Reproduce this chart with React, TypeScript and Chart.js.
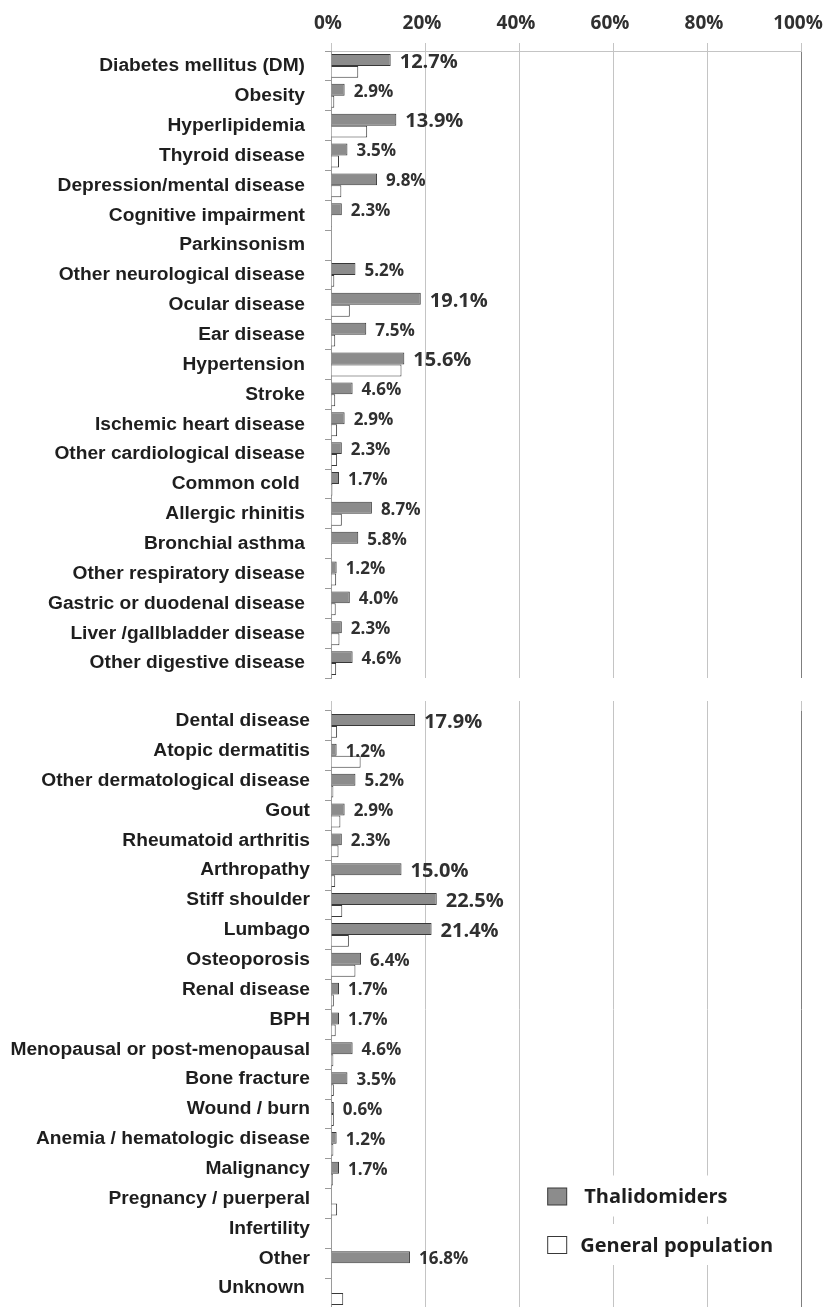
import React, { useEffect, useRef } from "react";
import { Chart, registerables } from "chart.js";

Chart.register(...registerables);

// ---------- data ----------
const seriesNames = ["Thalidomiders", "General population"];

const categoriesTop = [
  "Diabetes mellitus (DM)",
  "Obesity",
  "Hyperlipidemia",
  "Thyroid disease",
  "Depression/mental disease",
  "Cognitive impairment",
  "Parkinsonism",
  "Other neurological disease",
  "Ocular disease",
  "Ear disease",
  "Hypertension",
  "Stroke",
  "Ischemic heart disease",
  "Other cardiological disease",
  "Common cold ",
  "Allergic rhinitis",
  "Bronchial asthma",
  "Other respiratory disease",
  "Gastric or duodenal disease",
  "Liver /gallbladder disease",
  "Other digestive disease",
];
const thalidomidersTop = [
  12.7, 2.9, 13.9, 3.5, 9.8, 2.3, 0, 5.2, 19.1, 7.5, 15.6, 4.6, 2.9, 2.3, 1.7,
  8.7, 5.8, 1.2, 4.0, 2.3, 4.6,
];
const generalTop = [
  5.8, 0.7, 7.7, 1.7, 2.2, 0.2, 0.1, 0.7, 4.0, 0.9, 15.0, 0.9, 1.3, 1.3, 0.3,
  2.3, 0.2, 1.1, 1.0, 1.8, 1.1,
];

const categoriesBottom = [
  "Dental disease",
  "Atopic dermatitis",
  "Other dermatological disease",
  "Gout",
  "Rheumatoid arthritis",
  "Arthropathy",
  "Stiff shoulder",
  "Lumbago",
  "Osteoporosis",
  "Renal disease",
  "BPH",
  "Menopausal or post-menopausal",
  "Bone fracture",
  "Wound / burn",
  "Anemia / hematologic disease",
  "Malignancy",
  "Pregnancy / puerperal",
  "Infertility",
  "Other",
  "Unknown ",
];
const thalidomidersBottom = [
  17.9, 1.2, 5.2, 2.9, 2.3, 15.0, 22.5, 21.4, 6.4, 1.7, 1.7, 4.6, 3.5, 0.6, 1.2,
  1.7, 0, 0, 16.8, 0,
];
const generalBottom = [
  1.3, 6.3, 0.5, 2.0, 1.6, 0.9, 2.4, 3.8, 5.2, 0.6, 1.0, 0.5, 0.6, 0.6, 0.5,
  0.4, 1.3, 0, 0, 2.6,
];

const xTickValues = [0, 20, 40, 60, 80, 100];

// ---------- styles ----------
const THAL_FILL = "#8c8c8c";
const GEN_FILL = "#ffffff";
const BAR_BORDER = "#383838";
const GRID = "#c4c4c4";
const AXIS = "#9a9a9a";
const RIGHT_EDGE = "#7f7f7f";
const LABEL_FONT = '"Liberation Sans", Arial, sans-serif';
const NUM_FONT = '"Open Sans", "Noto Sans", sans-serif';

const valueLabelPlugin = {
  id: "valueLabels",
  afterDatasetsDraw(chart: any) {
    const ctx = chart.ctx;
    const meta = chart.getDatasetMeta(0);
    const data = chart.data.datasets[0].data as number[];
    const labels = chart.data.labels as string[];
    ctx.save();
    ctx.fillStyle = "#303030";
    ctx.textAlign = "left";
    ctx.textBaseline = "middle";
    meta.data.forEach((bar: any, i: number) => {
      const v = data[i];
      if (!v) return;
      const big = v >= 12 && labels[i].trim() !== "Other";
      ctx.font = `bold ${big ? 20 : 17}px ${NUM_FONT}`;
      ctx.fillText(v.toFixed(1) + "%", bar.x + 9, bar.y + 2);
    });
    ctx.restore();
  },
};

const legendPlugin = {
  id: "boxLegend",
  afterDraw(chart: any) {
    if (!chart.options.plugins.boxLegend?.show) return;
    const ctx = chart.ctx;
    const area = chart.chartArea;
    const xs = chart.scales.x;
    const boxLeft = xs.getPixelForValue(46);
    const items = chart.data.datasets.map((ds: any, i: number) => ({
      text: ds.label,
      fill: ds.backgroundColor,
      border: ds.borderColor,
      cy: area.top + 485.5 + i * 48.5,
      textX: boxLeft + (i === 0 ? 37 : 33),
    }));
    ctx.save();
    items.forEach((it: any) => {
      ctx.fillStyle = "#ffffff";
      ctx.fillRect(boxLeft - 8, it.cy - 21, 252, 41);
      ctx.fillStyle = it.fill;
      ctx.strokeStyle = it.border;
      ctx.lineWidth = 1;
      ctx.fillRect(boxLeft + 0.5, it.cy - 8.5, 19, 17);
      ctx.strokeRect(boxLeft + 0.5, it.cy - 8.5, 19, 17);
      ctx.fillStyle = "#1e1e1e";
      ctx.font = `bold 20px ${NUM_FONT}`;
      ctx.textAlign = "left";
      ctx.textBaseline = "middle";
      ctx.fillText(it.text, it.textX, it.cy + 1);
    });
    ctx.restore();
  },
};

function makeConfig(
  labels: string[],
  thal: number[],
  gen: number[],
  top: boolean
): any {
  return {
    type: "bar",
    data: {
      labels,
      datasets: [
        {
          label: seriesNames[0],
          data: thal,
          backgroundColor: THAL_FILL,
          borderColor: BAR_BORDER,
          borderWidth: 1,
        },
        {
          label: seriesNames[1],
          data: gen,
          backgroundColor: GEN_FILL,
          borderColor: BAR_BORDER,
          borderWidth: 1,
        },
      ],
    },
    options: {
      indexAxis: "y",
      animation: false,
      responsive: false,
      events: [],
      layout: {
        padding: top
          ? { left: 0, right: 29, top: 0, bottom: 12 }
          : { left: 0, right: 29, top: 11, bottom: 0 },
      },
      datasets: { bar: { categoryPercentage: 0.8, barPercentage: 1.0 } },
      plugins: {
        legend: { display: false },
        tooltip: { enabled: false },
        boxLegend: { show: !top },
      },
      scales: {
        x: {
          position: "top",
          min: 0,
          max: 100,
          afterBuildTicks: (s: any) => {
            s.ticks = xTickValues.map((v) => ({ value: v }));
          },
          afterFit: (s: any) => {
            s.height = top ? 51 : 10;
            s.paddingLeft = 0;
            s.paddingRight = 0;
          },
          ticks: {
            display: top,
            callback: (v: any) => v + "%",
            font: { family: NUM_FONT, weight: "bold", size: 19 },
            color: "#303030",
            padding: 8,
            maxRotation: 0,
            labelOffset: -3,
          },
          grid: {
            color: (c: any) =>
              c.tick && c.tick.value === 100
                ? RIGHT_EDGE
                : c.tick && c.tick.value === 0
                ? AXIS
                : GRID,
            tickColor: GRID,
            tickLength: top ? 8 : 10,
          },
          border: { display: top, color: GRID },
        },
        y: {
          afterFit: (s: any) => {
            s.width = 331;
            s.paddingTop = 0;
            s.paddingBottom = 0;
          },
          ticks: {
            autoSkip: false,
            font: { family: LABEL_FONT, weight: "bold", size: 19.2 },
            color: "#1e1e1e",
            padding: top ? 20 : 15,
            labelOffset: top ? 0 : -5,
          },
          grid: {
            drawOnChartArea: false,
            tickLength: 6,
            color: AXIS,
          },
          border: { color: AXIS },
        },
      },
    },
    plugins: [valueLabelPlugin, legendPlugin],
  };
}

export default function App() {
  const topRef = useRef<HTMLCanvasElement>(null);
  const bottomRef = useRef<HTMLCanvasElement>(null);

  useEffect(() => {
    const c1 = new Chart(
      topRef.current as HTMLCanvasElement,
      makeConfig(categoriesTop, thalidomidersTop, generalTop, true)
    );
    const c2 = new Chart(
      bottomRef.current as HTMLCanvasElement,
      makeConfig(categoriesBottom, thalidomidersBottom, generalBottom, false)
    );
    return () => {
      c1.destroy();
      c2.destroy();
    };
  }, []);

  return (
    <div
      style={{
        position: "absolute",
        left: 0,
        top: 0,
        width: 830,
        height: 1307,
        overflow: "hidden",
        background: "#ffffff",
      }}
    >
      <canvas
        ref={topRef}
        width={830}
        height={690}
        style={{ position: "absolute", left: 0, top: 0, width: 830, height: 690 }}
      />
      <canvas
        ref={bottomRef}
        width={830}
        height={618}
        style={{ position: "absolute", left: 0, top: 690, width: 830, height: 618 }}
      />
    </div>
  );
}
